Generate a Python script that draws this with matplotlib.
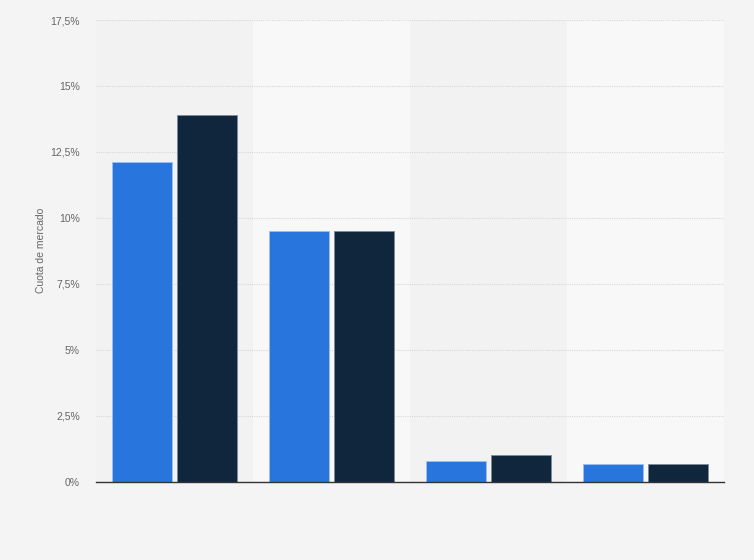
import matplotlib
matplotlib.use("Agg")
import matplotlib.pyplot as plt
import numpy as np

categories = ["A", "B", "C", "D"]
series1 = [12.1, 9.5, 0.8, 0.68]
series2 = [13.9, 9.5, 1.0, 0.68]
yticks = [0, 2.5, 5, 7.5, 10, 12.5, 15, 17.5]
ytick_labels = ["0%", "2,5%", "5%", "7,5%", "10%", "12,5%", "15%", "17,5%"]

plt.rcParams['font.family'] = ['Liberation Sans', 'DejaVu Sans']

fig = plt.figure(figsize=(7.54, 5.6), dpi=100)
fig.patch.set_facecolor('#f4f4f4')
ax = fig.add_axes([96/754, 1-481.7/560, (724-96)/754, (481.7-20)/560])
ax.set_facecolor('#f4f4f4')

x = np.arange(len(categories))
for i in x:
    ax.axvspan(i-0.5, i+0.5, color='#f2f2f2' if i % 2 == 0 else '#f8f8f8', zorder=0, lw=0)

w = 0.376
off = 0.207
ax.bar(x-off, series1, w, color='#2876dd', edgecolor='#9cc0ee', linewidth=0.6, zorder=3)
ax.bar(x+off, series2, w, color='#10263d', edgecolor='#7d8a98', linewidth=0.6, zorder=3)

ax.set_xlim(-0.5, len(categories)-0.5)
ax.set_ylim(0, 17.5)
ax.set_yticks(yticks)
ax.set_yticklabels(ytick_labels)
ax.set_xticks([])
ax.grid(axis='y', color='#d8d8d8', linestyle=(0, (1, 1)), linewidth=0.8, zorder=1)
ax.tick_params(axis='y', length=0, pad=11.5, labelsize=7.5, labelcolor='#666666')
for s in ['top', 'right', 'left']:
    ax.spines[s].set_visible(False)
ax.spines['bottom'].set_color('#333333')
ax.spines['bottom'].set_linewidth(1.0)
ax.spines['bottom'].set_zorder(4)
ax.set_ylabel('Cuota de mercado', fontsize=7.5, color='#666666', labelpad=3)

fig.savefig('out.png', dpi=100, facecolor=fig.get_facecolor())
